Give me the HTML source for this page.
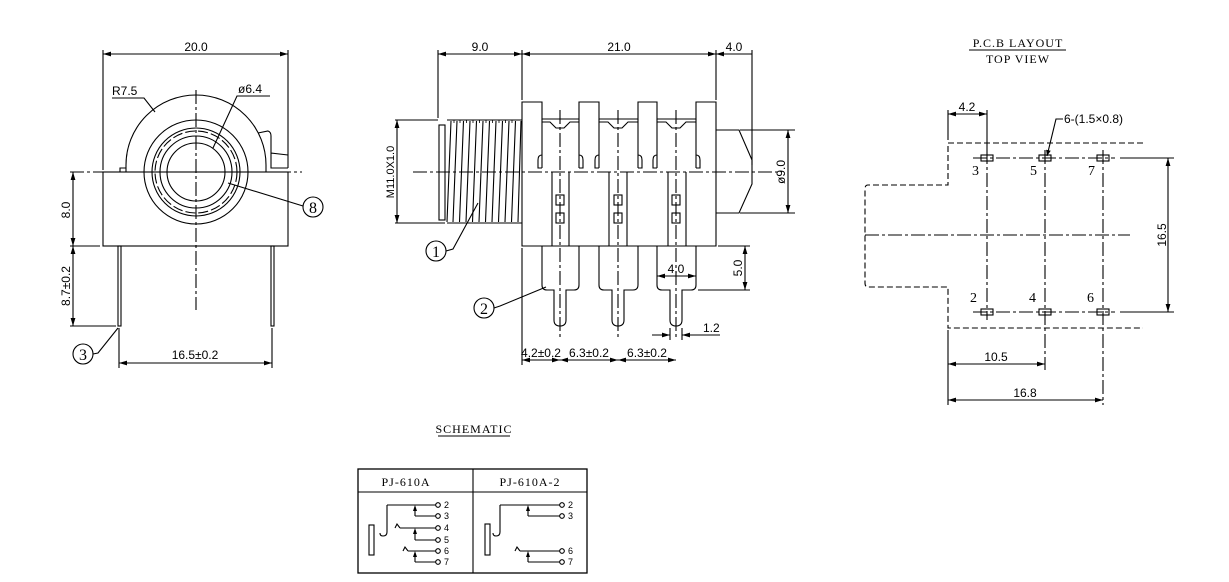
<!DOCTYPE html>
<html><head><meta charset="utf-8"><style>
html,body{margin:0;padding:0;background:#fff}
svg{display:block}
text{font-family:"Liberation Sans",sans-serif;fill:#000}
.s{font-family:"Liberation Serif","Noto Serif CJK SC",serif}
</style></head><body>
<svg width="1229" height="582" viewBox="0 0 1229 582" xmlns="http://www.w3.org/2000/svg" font-size="12">
<defs>
<marker id="a" viewBox="0 0 10 10" refX="10" refY="5" markerWidth="8" markerHeight="8" orient="auto-start-reverse" markerUnits="userSpaceOnUse"><path d="M0,2 L10,5 L0,8 z" fill="#000"/></marker>
<marker id="b" viewBox="0 0 10 10" refX="10" refY="5" markerWidth="6" markerHeight="6" orient="auto" markerUnits="userSpaceOnUse"><path d="M0,1 L10,5 L0,9 z" fill="#000"/></marker>
</defs>
<g stroke="#000" stroke-width="1.1" fill="none">
<!-- LEFT VIEW -->
<line x1="103" y1="50" x2="103" y2="170"/><line x1="288" y1="50" x2="288" y2="168"/>
<line x1="103" y1="54" x2="288" y2="54" marker-start="url(#a)" marker-end="url(#a)"/>
<rect x="103" y="172" width="185" height="74"/>
<line x1="70" y1="172" x2="302" y2="172" stroke-dasharray="14,3,3,3"/>
<line x1="196" y1="90" x2="196" y2="310" stroke-dasharray="14,3,3,3"/>
<path d="M126,172 L126,165 A70,70 0 0 1 266,165 L266,172"/>
<path d="M120,172 L120,168 L126,168"/>
<circle cx="196" cy="172" r="52"/><circle cx="196" cy="172" r="44"/>
<circle cx="196" cy="172" r="41" stroke-dasharray="10,3"/>
<circle cx="196" cy="172" r="36"/><circle cx="196" cy="172" r="29"/>
<path d="M258,133 L268,131 Q271,132 271,136 L271,153 L288,155 M271,153 L271,168 L288,168"/>
<rect x="118" y="246" width="3" height="80"/><rect x="271" y="246" width="3" height="80"/>
<line x1="70" y1="246" x2="100" y2="246"/><line x1="70" y1="326" x2="116" y2="326"/>
<line x1="73" y1="172" x2="73" y2="246" marker-start="url(#a)" marker-end="url(#a)"/>
<line x1="73" y1="246" x2="73" y2="326" marker-start="url(#a)" marker-end="url(#a)"/>
<line x1="119" y1="328" x2="119" y2="368"/><line x1="272" y1="328" x2="272" y2="368"/>
<line x1="119" y1="363" x2="272" y2="363" marker-start="url(#a)" marker-end="url(#a)"/>
<path d="M112,98 L144,98 L155,112"/>
<path d="M270,96 L237,96 L213,148"/>
<circle cx="313" cy="207" r="10"/><path d="M303,206 L228,183"/>
<circle cx="83" cy="354" r="10"/><path d="M93,354 L98,353 L118,328"/>
<!-- MIDDLE VIEW -->
<line x1="438" y1="50" x2="438" y2="118"/><line x1="522" y1="50" x2="522" y2="100"/>
<line x1="716" y1="50" x2="716" y2="100"/><line x1="752" y1="50" x2="752" y2="165"/>
<line x1="438" y1="54" x2="522" y2="54" marker-start="url(#a)" marker-end="url(#a)"/>
<line x1="522" y1="54" x2="716" y2="54" marker-start="url(#a)" marker-end="url(#a)"/>
<line x1="716" y1="54" x2="752" y2="54" marker-start="url(#a)"/>
<rect x="439" y="125" width="6" height="95"/>
<path d="M447,120 L522,120 M447,223 L522,223"/>
<path d="M451,121 L447,222 M457,121 L453,222 M463.5,121 L459.5,222 M470,121 L466,222 M476.5,121 L472.5,222 M483,121 L479,222 M489.5,121 L485.5,222 M496,121 L492,222 M502.5,121 L498.5,222 M509,121 L505,222 M515.5,121 L511.5,222 M521,121 L518,222"/>
<path d="M454,120 L454,123 M460,120 L460,123 M466.5,120 L466.5,123 M473,120 L473,123 M479.5,120 L479.5,123 M486,120 L486,123 M492.5,120 L492.5,123 M499,120 L499,123 M505.5,120 L505.5,123 M512,120 L512,123" stroke-width="0.8"/>
<path d="M522,246 L522,102 L542,102 L542,119 L579,119 L579,102 L599,102 L599,119 L638,119 L638,102 L657,102 L657,119 L696,119 L696,102 L716,102 L716,246 Z"/>
<path d="M542,119 L542,168 M579,119 L579,168 M599,119 L599,168 M638,119 L638,168 M657,119 L657,168 M696,119 L696,168"/>
<path d="M542,122 L550,122 L556,128 L564,128 L570,122 L579,122 M599,122 L608,122 L614,128 L622,128 L628,122 L638,122 M657,122 L666,122 L672,128 L680,128 L686,122 L696,122"/>
<path d="M542,155 Q538,155 538,160 L538,168 L542,168 M579,155 Q583,155 583,160 L583,168 L579,168 M599,155 Q595,155 595,160 L595,168 L599,168 M638,155 Q642,155 642,160 L642,168 L638,168 M657,155 Q653,155 653,160 L653,168 L657,168 M696,155 Q700,155 700,160 L700,168 L696,168"/>
<path d="M552,172 L552,246 M569,172 L569,246 M609,172 L609,246 M627,172 L627,246 M668,172 L668,246 M686,172 L686,246"/>
<rect x="556" y="195" width="8" height="10"/><rect x="556" y="213" width="8" height="10"/>
<rect x="614" y="195" width="8" height="10"/><rect x="614" y="213" width="8" height="10"/>
<rect x="672" y="195" width="8" height="10"/><rect x="672" y="213" width="8" height="10"/>
<line x1="413" y1="172" x2="782" y2="172" stroke-dasharray="14,3,3,3"/>
<path d="M560,110 L560,340 M618,110 L618,340 M676,110 L676,340" stroke-dasharray="14,3,3,3"/>
<path d="M716,130 L739,130 L752,160 L752,184 L739,213 L716,213"/>
<line x1="740" y1="130" x2="795" y2="130"/><line x1="740" y1="213" x2="795" y2="213"/>
<line x1="788" y1="130" x2="788" y2="213" marker-start="url(#a)" marker-end="url(#a)"/>
<line x1="395" y1="120" x2="438" y2="120"/><line x1="395" y1="223" x2="445" y2="223"/>
<line x1="397" y1="120" x2="397" y2="223" marker-start="url(#a)" marker-end="url(#a)"/>
<path d="M542,246 L542,285 Q542,290 547,290 L554,290 L554,320 Q554,326 560,326 Q566,326 566,320 L566,290 L574,290 Q579,290 579,285 L579,246"/>
<path d="M599,246 L599,285 Q599,290 604,290 L612,290 L612,320 Q612,326 618,326 Q624,326 624,320 L624,290 L633,290 Q638,290 638,285 L638,246"/>
<path d="M657,246 L657,285 Q657,290 662,290 L670,290 L670,320 Q670,326 676,326 Q682,326 682,320 L682,290 L691,290 Q696,290 696,285 L696,246"/>
<line x1="718" y1="246" x2="750" y2="246"/><line x1="698" y1="290" x2="750" y2="290"/>
<line x1="745" y1="246" x2="745" y2="290" marker-start="url(#a)" marker-end="url(#a)"/>
<line x1="657" y1="276" x2="696" y2="276" marker-start="url(#a)" marker-end="url(#a)"/>
<path d="M670,328 L670,340 M682,328 L682,340"/>
<line x1="652" y1="335" x2="670" y2="335" marker-end="url(#a)"/>
<line x1="700" y1="335" x2="682" y2="335" marker-end="url(#a)"/>
<line x1="700" y1="335" x2="720" y2="335"/>
<path d="M522,248 L522,365"/>
<line x1="522" y1="360" x2="560" y2="360" marker-start="url(#a)" marker-end="url(#a)"/>
<line x1="560" y1="360" x2="618" y2="360" marker-start="url(#a)" marker-end="url(#a)"/>
<line x1="618" y1="360" x2="676" y2="360" marker-start="url(#a)" marker-end="url(#a)"/>
<circle cx="436" cy="251" r="10"/><path d="M446,251 L453,249 L478,203"/>
<circle cx="484" cy="308" r="10"/><path d="M494,308 L500,306 L546,287"/>
<!-- RIGHT VIEW -->
<path d="M1143,143 L948,143 L948,185 L868,185 Q865,185 865,189 L865,283 Q865,287 868,287 L948,287 L948,328 L1143,328" stroke-dasharray="6,3"/>
<line x1="865" y1="235" x2="1130" y2="235" stroke-dasharray="14,3,3,3"/>
<path d="M987,150 L987,320 M1045,150 L1045,370 M1103,150 L1103,405" stroke-dasharray="14,3,3,3"/>
<path d="M973,158 L1115,158 M973,312 L1115,312" stroke-dasharray="14,3,3,3"/>
<rect x="981" y="155" width="12" height="6"/><rect x="1039" y="155" width="12" height="6"/><rect x="1097" y="155" width="12" height="6"/>
<rect x="981" y="309" width="12" height="6"/><rect x="1039" y="309" width="12" height="6"/><rect x="1097" y="309" width="12" height="6"/>
<path d="M1120,158 L1174,158 M1120,312 L1174,312"/>
<line x1="1168" y1="158" x2="1168" y2="312" marker-start="url(#a)" marker-end="url(#a)"/>
<path d="M948,110 L948,140 M987,110 L987,150 M948,330 L948,405"/>
<line x1="948" y1="114" x2="987" y2="114" marker-start="url(#a)" marker-end="url(#a)"/>
<line x1="948" y1="364" x2="1045" y2="364" marker-start="url(#a)" marker-end="url(#a)"/>
<line x1="948" y1="400" x2="1103" y2="400" marker-start="url(#a)" marker-end="url(#a)"/>
<path d="M1063,119 L1056,119 L1047,156" marker-end="url(#b)"/>
<!-- SCHEMATIC -->
<rect x="358" y="469" width="229" height="104" stroke-width="1.3"/>
<line x1="358" y1="492" x2="587" y2="492"/><line x1="473" y1="469" x2="473" y2="573"/>
<rect x="369" y="525" width="5" height="30"/>
<path d="M387,505 L387,532 Q387,536 383,536 Q380,536 380,533"/>
<path d="M387,505 L436,505 M415,516 L436,516 M415,516 L415,507 M400,528 L436,528 M395,528 L397,524 L400,528 M415,540 L436,540 M415,540 L415,530 M408,551 L436,551 M403,551 L405,547 L408,551 M415,562 L436,562 M415,562 L415,553"/>
<circle cx="438" cy="505" r="2.3"/><circle cx="438" cy="516" r="2.3"/><circle cx="438" cy="528" r="2.3"/>
<circle cx="438" cy="540" r="2.3"/><circle cx="438" cy="551" r="2.3"/><circle cx="438" cy="562" r="2.3"/>
<rect x="485" y="524" width="5" height="31"/>
<path d="M500,505 L500,532 Q500,536 496,536 Q493,536 493,533"/>
<path d="M500,505 L560,505 M528,516 L560,516 M528,516 L528,507 M520,551 L560,551 M515,551 L517,547 L520,551 M528,562 L560,562 M528,562 L528,553"/>
<circle cx="562" cy="505" r="2.3"/><circle cx="562" cy="516" r="2.3"/><circle cx="562" cy="551" r="2.3"/><circle cx="562" cy="562" r="2.3"/>
<path d="M969,50 L1066,50 M438,436 L510,436"/>
</g>
<g fill="#000">
<path d="M415,505 L413,511 L417,511 Z M415,528 L413,534 L417,534 Z M415,551 L413,557 L417,557 Z M528,505 L526,511 L530,511 Z M528,551 L526,557 L530,557 Z"/>
</g>
<!-- TEXT -->
<text x="196" y="51" text-anchor="middle">20.0</text>
<text x="112" y="95">R7.5</text>
<text x="238" y="93">ø6.4</text>
<text x="313" y="213" text-anchor="middle" class="s" style="font-size:16px">8</text>
<text x="83" y="360" text-anchor="middle" class="s" style="font-size:16px">3</text>
<text x="195" y="359" text-anchor="middle">16.5±0.2</text>
<text transform="translate(70,210) rotate(-90)" text-anchor="middle">8.0</text>
<text transform="translate(70,286) rotate(-90)" text-anchor="middle">8.7±0.2</text>
<text x="480" y="51" text-anchor="middle">9.0</text>
<text x="619" y="51" text-anchor="middle">21.0</text>
<text x="734" y="51" text-anchor="middle">4.0</text>
<text transform="translate(394,172) rotate(-90)" text-anchor="middle" style="font-size:11px">M11.0X1.0</text>
<text transform="translate(785,172) rotate(-90)" text-anchor="middle">ø9.0</text>
<text transform="translate(742,268) rotate(-90)" text-anchor="middle">5.0</text>
<text x="676" y="273" text-anchor="middle">4.0</text>
<text x="703" y="332">1.2</text>
<text x="541" y="357" text-anchor="middle">4.2±0.2</text>
<text x="589" y="357" text-anchor="middle">6.3±0.2</text>
<text x="647" y="357" text-anchor="middle">6.3±0.2</text>
<text x="436" y="257" text-anchor="middle" class="s" style="font-size:16px">1</text>
<text x="484" y="314" text-anchor="middle" class="s" style="font-size:16px">2</text>
<text x="1018" y="47" text-anchor="middle" class="s" style="font-size:12px;letter-spacing:1px">P.C.B LAYOUT</text>
<text x="1018" y="63" text-anchor="middle" class="s" style="font-size:12px;letter-spacing:1px">TOP VIEW</text>
<text x="967" y="111" text-anchor="middle">4.2</text>
<text x="1064" y="123">6-(1.5×0.8)</text>
<text x="972" y="175" class="s" style="font-size:14px">3</text><text x="1030" y="175" class="s" style="font-size:14px">5</text><text x="1088" y="175" class="s" style="font-size:14px">7</text>
<text x="970" y="302" class="s" style="font-size:14px">2</text><text x="1029" y="302" class="s" style="font-size:14px">4</text><text x="1087" y="302" class="s" style="font-size:14px">6</text>
<text transform="translate(1166,235) rotate(-90)" text-anchor="middle">16.5</text>
<text x="996" y="361" text-anchor="middle">10.5</text>
<text x="1025" y="397" text-anchor="middle">16.8</text>
<text x="474" y="433" text-anchor="middle" class="s" style="font-size:12px;letter-spacing:1px">SCHEMATIC</text>
<text x="406" y="486" text-anchor="middle" class="s" style="font-size:12px;letter-spacing:1px">PJ-610A</text>
<text x="530" y="486" text-anchor="middle" class="s" style="font-size:12px;letter-spacing:1px">PJ-610A-2</text>
<g class="s" style="font-size:9px">
<text x="444" y="508">2</text><text x="444" y="519">3</text><text x="444" y="531">4</text>
<text x="444" y="543">5</text><text x="444" y="554">6</text><text x="444" y="565">7</text>
<text x="568" y="508">2</text><text x="568" y="519">3</text>
<text x="568" y="554">6</text><text x="568" y="565">7</text>
</g>
</svg>
</body></html>
